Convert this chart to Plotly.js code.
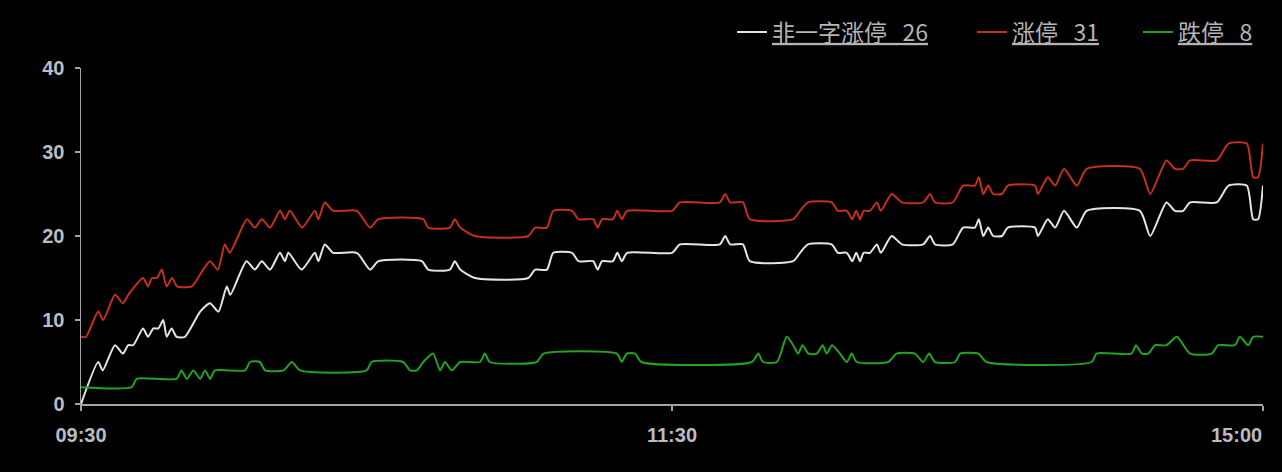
<!DOCTYPE html>
<html>
<head>
<meta charset="utf-8">
<script src="https://cdn.plot.ly/plotly-3.0.1.min.js"></script>
<style>
html,body{margin:0;padding:0;background:#000;}
#chart{width:1282px;height:472px;}
</style>
</head>
<body>
<div id="chart"></div>
<script>
// x = minutes of trading since 09:30 (11:30 = 120, 15:00 = 240)
var tickVals = [0, 120, 240];
var tickText = ['09:30', '11:30', '15:00'];
var yTicks = [0, 10, 20, 30, 40];

var seriesNames = ['非一字涨停', '涨停', '跌停'];
var seriesLast = ['26', '31', '8'];

var whiteT = [0,3.5,4.4,6.9,8.5,9.6,10.6,12.6,13.6,14.7,15.7,16.7,17.4,18.4,19.4,21.1,24.2,26.2,27.9,29.6,30.3,33.6,35.3,36.7,38.4,40.4,41.4,42.1,44.8,47.5,48.2,49.5,51.2,56,58.7,60.4,69.2,70.5,74.9,75.9,77,80,90.8,92.2,94.6,95.9,99.7,101,104,104.9,105.8,108,108.9,109.8,110.9,120,121.6,129.7,130.8,131.8,134.4,135.8,144.6,146,147.6,152.4,153.7,155.5,156.6,157.4,158.2,158.9,160.2,161.6,162.4,164.6,166.7,171,172.4,173.4,177,179.1,181.5,182.3,183.2,184.2,185.2,187,188.2,193.7,194.3,196.3,197.8,199.6,202.2,204.2,215,217.1,220.4,222.1,223.8,225.2,230.6,233,236.7,238,239,240];
var whiteV = [0,5,4,7,6,7,7,9,8,9,9,10,8,9,8,8,11,12,11,14,13,17,16,17,16,18,17,18,16,18,17,19,18,18,16,17,17,16,16,17,16,15,15,16,16,18,18,17,17,16,17,17,18,17,18,18,19,19,20,19,19,17,17,18,19,19,18,18,17,18,17,18,18,19,18,20,19,19,20,19,19,21,21,22,20,21,20,20,21,21,20,22,21,23,21,23,23,20,24,23,23,24,24,26,26,22,22,26];

var redT = [0,1,3.5,4.5,6.9,8.5,9.6,12.6,13.6,14.4,15.4,16.4,17.4,18.5,19.5,22.5,24.8,26.2,27.8,29.2,30.2,33.7,35.3,36.7,38.4,40.4,41.4,42.4,44.9,47.5,48.2,49.5,51.2,56,58.7,60.4,69.5,70.5,74.9,75.9,77,80,90.8,92.2,94.6,95.9,99.7,101,104,104.9,105.8,108,108.9,109.8,110.9,120,121.6,129.7,130.8,131.8,134.4,135.8,144.6,146,147.6,152.4,153.7,155.5,156.6,157.4,158.2,158.9,160.2,161.6,162.4,164.6,166.7,171,172.4,173.4,177,179.1,181.5,182.3,183.2,184.2,185.2,187,188.2,193.7,194.3,196.3,197.8,199.6,202.2,204.2,215,217.1,220.4,222.1,223.8,225.2,230.6,233,236.7,238,239,240];
var redV = [8,8,11,10,13,12,13,15,14,15,15,16,14,15,14,14,16,17,16,19,18,22,21,22,21,23,22,23,21,23,22,24,23,23,21,22,22,21,21,22,21,20,20,21,21,23,23,22,22,21,22,22,23,22,23,23,24,24,25,24,24,22,22,23,24,24,23,23,22,23,22,23,23,24,23,25,24,24,25,24,24,26,26,27,25,26,25,25,26,26,25,27,26,28,26,28,28,25,29,28,28,29,29,31,31,27,27,31];

var greenT = [0,10.3,11.3,19.4,20.4,21.5,22.8,24.2,25.2,26.2,27.2,33.3,34.3,36.3,37.4,41.1,42.8,44.5,58,59,65.4,66.8,68.2,69.5,71.5,72.9,73.9,75.3,77,81,82,83,92.5,93.9,108.8,109.8,110.8,112.5,113.8,136.2,137.5,138.5,141.3,143.3,144.6,145.6,146.5,147.7,149.4,150.6,151.4,152.5,154.1,155.5,156.5,157.5,163.9,165.6,169.3,171,172.2,173.4,177.5,178.5,182.2,183.9,205.2,206.2,213.3,214.2,215.4,216.7,218.1,220.4,222.5,225.2,229.6,230.9,234.3,235.3,237,238,240];
var greenV = [2,2,3,3,4,3,4,3,4,3,4,4,5,5,4,4,5,4,4,5,5,4,4,5,6,4,5,4,5,5,6,5,5,6,6,5,6,6,5,5,6,5,5,8,7,6,7,6,6,7,6,7,6,5,6,5,5,6,6,5,6,5,5,6,6,5,5,6,6,7,6,6,7,7,8,6,6,7,7,8,7,8,8];

var colors = ['#e4e4e4', '#c4301f', '#22a322'];
var NB = '\u00a0';

function mk(t, v, i, lg) {
  return {
    x: t, y: v, type: 'scatter', mode: 'lines',
    name: '<u>' + seriesNames[i] + NB + NB + NB + seriesLast[i] + '</u>',
    line: {color: colors[i], width: 2, shape: 'spline', smoothing: 0.6},
    legend: lg, hoverinfo: 'skip'
  };
}

var data = [
  mk(whiteT, whiteV, 0, 'legend'),
  mk(redT, redV, 1, 'legend2'),
  mk(greenT, greenV, 2, 'legend3')
];

var last = tickText.length - 1;
// the last label sits right-aligned to its tick, so it is drawn as an annotation
var axisTickText = tickText.map(function (s, i) { return i === last ? '' : s; });

var axisColor = '#a4a4a4';
var tickFont = {family: 'Liberation Sans, Arial, sans-serif', size: 20, color: '#b9bdc3', weight: 'bold'};
var legFont = {family: 'Noto Sans CJK SC, sans-serif', size: 23, color: '#b4b4b4'};

function leg(x) {
  return {x: x, xanchor: 'left', y: 1.104, yanchor: 'middle', orientation: 'h',
          bgcolor: 'rgba(0,0,0,0)', borderwidth: 0, font: legFont};
}

var layout = {
  width: 1282, height: 472,
  paper_bgcolor: '#000', plot_bgcolor: '#000',
  margin: {l: 81, r: 19, t: 67, b: 68},
  showlegend: true,
  legend: leg(0.5508),
  legend2: leg(0.7538),
  legend3: leg(0.8942),
  xaxis: {
    range: [0, 240], tickmode: 'array', tickvals: tickVals, ticktext: axisTickText,
    showline: true, linecolor: axisColor, linewidth: 1.5,
    ticks: 'outside', ticklen: 5, tickcolor: axisColor, tickwidth: 1.5,
    showgrid: false, zeroline: false, tickfont: tickFont, ticklabelstandoff: 7
  },
  yaxis: {
    range: [0, 40], tickmode: 'array', tickvals: yTicks,
    showline: true, linecolor: axisColor, linewidth: 1.5,
    ticks: 'outside', ticklen: 5, tickcolor: axisColor, tickwidth: 1.5,
    showgrid: false, zeroline: false, tickfont: tickFont, ticklabelstandoff: 6
  },
  annotations: [{
    x: tickVals[last], xref: 'x', xanchor: 'right',
    y: 0, yref: 'paper', yanchor: 'middle', yshift: -31,
    text: tickText[last], showarrow: false, font: tickFont, borderpad: 0
  }]
};

Plotly.newPlot('chart', data, layout, {displayModeBar: false, staticPlot: true});
</script>
</body>
</html>
